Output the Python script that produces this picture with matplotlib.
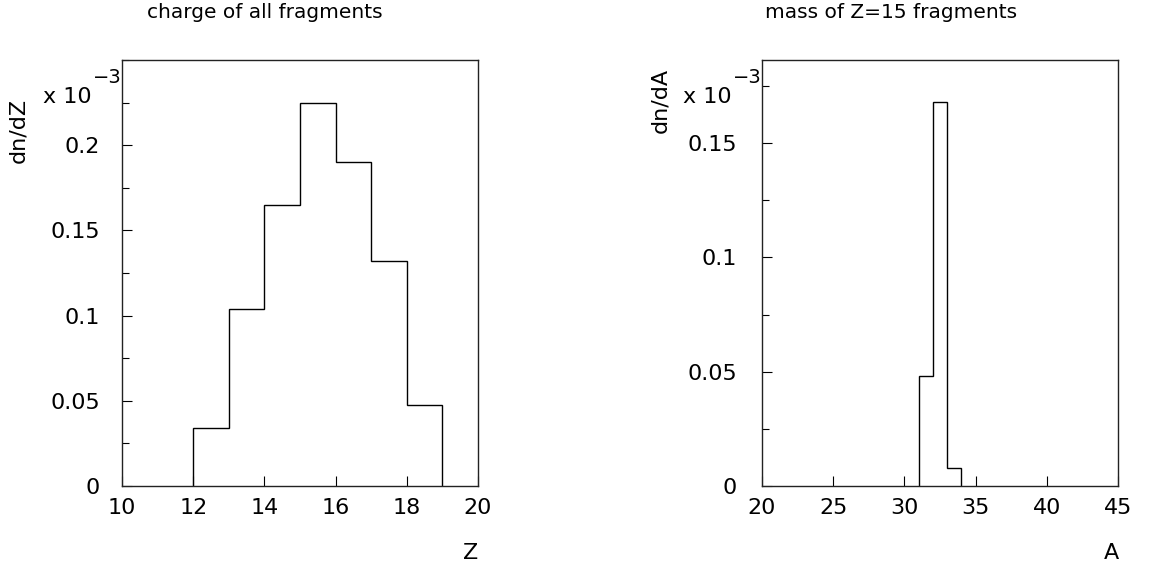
import matplotlib
matplotlib.use("Agg")
import matplotlib.pyplot as plt
import numpy as np
from matplotlib.ticker import MultipleLocator

# Data (values in units of 1e-3)
z_edges = [12, 13, 14, 15, 16, 17, 18, 19]
z_vals = [0.034, 0.104, 0.165, 0.225, 0.190, 0.132, 0.0475]
a_edges = [31, 32, 33, 34]
a_vals = [0.048, 0.168, 0.008]

z_xticks = [10, 12, 14, 16, 18, 20]
z_yticks = [0, 0.05, 0.1, 0.15, 0.2]
z_yticklabels = ["0", "0.05", "0.1", "0.15", "0.2"]
a_xticks = [20, 25, 30, 35, 40, 45]
a_yticks = [0, 0.05, 0.1, 0.15]
a_yticklabels = ["0", "0.05", "0.1", "0.15"]

plt.rcParams['font.family'] = ['DejaVu Sans']

W, H = 1149, 566
fig = plt.figure(figsize=(W / 100, H / 100), dpi=100)

def px_axes(x0, y0, x1, y1):
    return fig.add_axes([x0 / W, 1 - y1 / H, (x1 - x0) / W, (y1 - y0) / H])

def fx(x):
    return x / W

def fy(y):
    return 1 - y / H

ax1 = px_axes(122, 60, 478, 486)
ax2 = px_axes(762, 60, 1118, 486)

def style(ax, xlim, ylim, xticks, yticks, ylabels, ypad):
    ax.set_xlim(*xlim)
    ax.set_ylim(*ylim)
    for s in ['top', 'right', 'left', 'bottom']:
        ax.spines[s].set_linewidth(1.0)
        ax.spines[s].set_color('#222222')
    ax.set_xticks(xticks)
    ax.set_xticklabels([str(t) for t in xticks])
    ax.set_yticks(yticks)
    ax.set_yticklabels(ylabels)
    ax.yaxis.set_minor_locator(MultipleLocator(0.025))
    ax.tick_params(axis='both', which='major', direction='in', length=7, width=0.8,
                   labelsize=16, top=False, right=False)
    ax.tick_params(axis='y', which='major', pad=ypad)
    ax.tick_params(axis='x', which='major', pad=9)
    ax.tick_params(axis='y', which='minor', direction='in', length=5, width=0.8,
                   right=False)

ax1.stairs(z_vals, z_edges, baseline=0, color='black', linewidth=1.0)
style(ax1, (10, 20), (0, 0.25), z_xticks, z_yticks, z_yticklabels, 16)

ax2.stairs(a_vals, a_edges, baseline=0, color='black', linewidth=1.0)
style(ax2, (20, 45), (0, 0.1863), a_xticks, a_yticks, a_yticklabels, 18)

# Titles
fig.text(fx(265), fy(12), "charge of all fragments", ha='center', va='center', fontsize=14.5)
fig.text(fx(891), fy(12), "mass of Z=15 fragments", ha='center', va='center', fontsize=14.5)

# Y labels
fig.text(fx(18), fy(98), "dn/dZ", rotation=90, ha='center', va='top', fontsize=16)
fig.text(fx(660), fy(68), "dn/dA", rotation=90, ha='center', va='top', fontsize=16)

# Exponent labels
for x0 in (43, 683):
    fig.text(fx(x0), fy(103), "x 10", ha='left', va='baseline', fontsize=16)
    fig.text(fx(x0 + 50), fy(83), "\u22123", ha='left', va='baseline', fontsize=14)

# X labels
fig.text(fx(478), fy(553), "Z", ha='right', va='center', fontsize=16)
fig.text(fx(1119), fy(553), "A", ha='right', va='center', fontsize=16)

fig.savefig("out.png", dpi=100, facecolor='white')
